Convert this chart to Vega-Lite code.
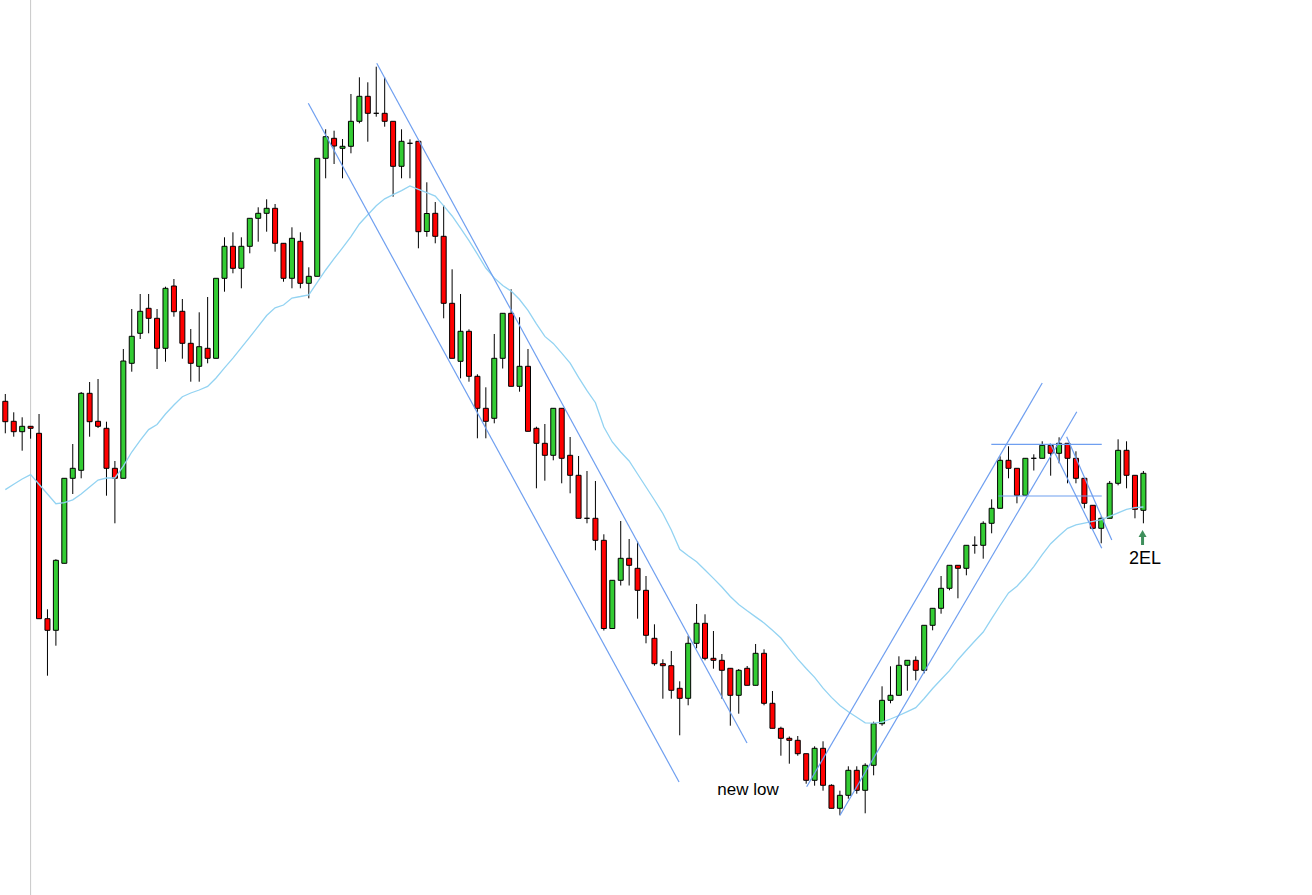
{
  "$schema": "https://vega.github.io/schema/vega-lite/v6.json",
  "width": 1312,
  "height": 895,
  "autosize": "none",
  "padding": 0,
  "background": "white",
  "config": {"view": {"stroke": null}, "scale": {"continuousPadding": 0}},
  "datasets": {
    "candles": [
      {"i":0,"o":498.7,"h":506,"l":466.7,"c":478.3,"ma":410.4},
      {"i":1,"o":478.7,"h":487.7,"l":463.3,"c":468.3,"ma":415.7},
      {"i":2,"o":468.3,"h":482.7,"l":449.3,"c":473.7,"ma":421},
      {"i":3,"o":473.7,"h":474,"l":461.3,"c":471.7,"ma":425.4},
      {"i":4,"o":466.7,"h":486,"l":281.3,"c":281.3,"ma":415.7},
      {"i":5,"o":281.3,"h":290.7,"l":224.3,"c":269.7,"ma":406},
      {"i":6,"o":269.7,"h":340.7,"l":254.3,"c":339.7,"ma":396.3},
      {"i":7,"o":336.7,"h":421.7,"l":336.7,"c":421.7,"ma":397.4},
      {"i":8,"o":421.7,"h":456,"l":406,"c":431.7,"ma":400.2},
      {"i":9,"o":429.7,"h":508,"l":421.7,"c":506.7,"ma":406},
      {"i":10,"o":506.7,"h":518,"l":463.3,"c":478.3,"ma":413},
      {"i":11,"o":478.7,"h":521,"l":472,"c":473.7,"ma":419.9},
      {"i":12,"o":471.7,"h":478.3,"l":404.3,"c":431.7,"ma":422},
      {"i":13,"o":431.7,"h":439,"l":376.7,"c":421.7,"ma":422},
      {"i":14,"o":421.7,"h":551,"l":421.7,"c":539,"ma":433.8},
      {"i":15,"o":536.7,"h":591,"l":528.3,"c":563.7,"ma":448},
      {"i":16,"o":566.7,"h":606,"l":561,"c":588.7,"ma":459.6},
      {"i":17,"o":591.7,"h":606,"l":566.7,"c":581.7,"ma":470.4},
      {"i":18,"o":581.7,"h":591,"l":531,"c":551.7,"ma":475.5},
      {"i":19,"o":551.7,"h":613.3,"l":538.3,"c":611.7,"ma":486},
      {"i":20,"o":614,"h":621,"l":583.3,"c":588.3,"ma":495},
      {"i":21,"o":588.7,"h":601,"l":541.3,"c":556.7,"ma":503.3},
      {"i":22,"o":556.7,"h":571,"l":518.3,"c":536.7,"ma":507},
      {"i":23,"o":533.7,"h":587.7,"l":518.3,"c":553.3,"ma":510},
      {"i":24,"o":551.7,"h":603,"l":536.7,"c":541.7,"ma":513.6},
      {"i":25,"o":541.7,"h":621.7,"l":541.7,"c":621.7,"ma":522},
      {"i":26,"o":621.7,"h":662.7,"l":608.3,"c":653.7,"ma":532.2},
      {"i":27,"o":653.7,"h":667.7,"l":626.7,"c":631.7,"ma":541.9},
      {"i":28,"o":631.7,"h":662.7,"l":611.7,"c":653.7,"ma":552.3},
      {"i":29,"o":653.7,"h":681.7,"l":646.7,"c":681.7,"ma":562.8},
      {"i":30,"o":681.7,"h":692.7,"l":658.3,"c":686.7,"ma":573.6},
      {"i":31,"o":686.7,"h":700.7,"l":668.3,"c":691.7,"ma":584.5},
      {"i":32,"o":691.7,"h":696,"l":648.3,"c":656.7,"ma":592.2},
      {"i":33,"o":656.7,"h":656.7,"l":618.3,"c":621.7,"ma":595},
      {"i":34,"o":621.7,"h":672.7,"l":611.7,"c":661.7,"ma":602},
      {"i":35,"o":658.7,"h":667.7,"l":611.7,"c":616.7,"ma":603.5},
      {"i":36,"o":616.7,"h":632.7,"l":601.7,"c":623.7,"ma":605.2},
      {"i":37,"o":623.7,"h":741.7,"l":623.7,"c":741.7,"ma":617.6},
      {"i":38,"o":741.7,"h":770.7,"l":721.7,"c":763.3,"ma":630},
      {"i":39,"o":761.7,"h":769.3,"l":736,"c":754,"ma":641.3},
      {"i":40,"o":751.7,"h":761,"l":721.7,"c":753.7,"ma":652.2},
      {"i":41,"o":753.7,"h":806,"l":746.7,"c":778.7,"ma":663.4},
      {"i":42,"o":778.7,"h":822.7,"l":776.7,"c":803.7,"ma":676},
      {"i":43,"o":803.7,"h":817.7,"l":758.3,"c":786.7,"ma":685.3},
      {"i":44,"o":786.7,"h":833.3,"l":783.3,"c":786.7,"ma":694.2},
      {"i":45,"o":786.7,"h":822.7,"l":773.3,"c":778.7,"ma":701.2},
      {"i":46,"o":778.7,"h":778.7,"l":703.3,"c":733.7,"ma":705.4},
      {"i":47,"o":733.7,"h":770.7,"l":721.7,"c":758.7,"ma":709.4},
      {"i":48,"o":756.7,"h":760.7,"l":721.7,"c":756.7,"ma":714},
      {"i":49,"o":758.7,"h":758.7,"l":651.7,"c":668.3,"ma":710.6},
      {"i":50,"o":668.5,"h":717.7,"l":663.3,"c":686.5,"ma":707.3},
      {"i":51,"o":686.7,"h":698,"l":656.7,"c":663.7,"ma":703.9},
      {"i":52,"o":663.7,"h":695,"l":581.7,"c":596.7,"ma":694.1},
      {"i":53,"o":596.7,"h":630.7,"l":541.7,"c":541.7,"ma":684},
      {"i":54,"o":538.7,"h":606,"l":521.7,"c":568.7,"ma":671.8},
      {"i":55,"o":568.7,"h":570.7,"l":518.3,"c":523.7,"ma":659.4},
      {"i":56,"o":523.7,"h":525.7,"l":461.7,"c":491.7,"ma":645.8},
      {"i":57,"o":491.7,"h":512.7,"l":461.7,"c":478.7,"ma":632},
      {"i":58,"o":481.7,"h":566,"l":476.7,"c":541.7,"ma":622.1},
      {"i":59,"o":541.7,"h":586.7,"l":531.5,"c":586.7,"ma":614.4},
      {"i":60,"o":586.7,"h":610.7,"l":513.7,"c":513.7,"ma":608.9},
      {"i":61,"o":513.7,"h":582.7,"l":508.3,"c":533.7,"ma":600.5},
      {"i":62,"o":533.7,"h":551,"l":468.7,"c":468.7,"ma":589.6},
      {"i":63,"o":471.7,"h":473.3,"l":411.7,"c":456.7,"ma":576.2},
      {"i":64,"o":456.7,"h":476,"l":419.3,"c":444.7,"ma":563.6},
      {"i":65,"o":444.7,"h":491.7,"l":439.7,"c":491.7,"ma":556.6},
      {"i":66,"o":491.7,"h":491.7,"l":416.7,"c":441.7,"ma":546.8},
      {"i":67,"o":444.7,"h":463,"l":406.7,"c":424.7,"ma":536.9},
      {"i":68,"o":424.7,"h":444,"l":381.7,"c":381.7,"ma":522.6},
      {"i":69,"o":381.7,"h":429,"l":376.7,"c":381.7,"ma":509.3},
      {"i":70,"o":381.7,"h":419,"l":349.7,"c":359.7,"ma":497.3},
      {"i":71,"o":359.7,"h":365.7,"l":269.5,"c":271.5,"ma":473},
      {"i":72,"o":271.5,"h":319.7,"l":271.5,"c":319.7,"ma":458},
      {"i":73,"o":319.7,"h":379,"l":314.5,"c":341.7,"ma":448},
      {"i":74,"o":341.7,"h":361,"l":314.5,"c":334.7,"ma":439},
      {"i":75,"o":331.7,"h":358.7,"l":281.3,"c":309.7,"ma":426},
      {"i":76,"o":309.7,"h":324,"l":256.7,"c":264.7,"ma":413},
      {"i":77,"o":261.7,"h":275.7,"l":234.3,"c":236.3,"ma":400},
      {"i":78,"o":236.3,"h":240.7,"l":201.3,"c":234.3,"ma":386.5},
      {"i":79,"o":234.3,"h":249,"l":201.3,"c":209.7,"ma":370},
      {"i":80,"o":211.7,"h":218.7,"l":164.7,"c":201.7,"ma":350.7},
      {"i":81,"o":201.7,"h":264.3,"l":194.7,"c":256.7,"ma":344.3},
      {"i":82,"o":256.7,"h":296,"l":251.7,"c":276.7,"ma":338.3},
      {"i":83,"o":276.7,"h":285.7,"l":239.7,"c":241.7,"ma":330},
      {"i":84,"o":241.7,"h":269,"l":231.3,"c":239.7,"ma":321.6},
      {"i":85,"o":239.7,"h":246,"l":201.3,"c":229.7,"ma":313},
      {"i":86,"o":231.7,"h":231.7,"l":174.3,"c":204.7,"ma":303.5},
      {"i":87,"o":204.7,"h":231,"l":186.3,"c":229.7,"ma":295.6},
      {"i":88,"o":231.7,"h":234,"l":214.7,"c":214.7,"ma":289.2},
      {"i":89,"o":214.7,"h":256,"l":214.7,"c":246.7,"ma":283.1},
      {"i":90,"o":246.7,"h":250.7,"l":194.7,"c":196.7,"ma":277.1},
      {"i":91,"o":196.7,"h":209,"l":171.7,"c":171.7,"ma":269.7},
      {"i":92,"o":171.7,"h":173.3,"l":144.3,"c":161.7,"ma":262},
      {"i":93,"o":161.7,"h":163.5,"l":136.3,"c":159.7,"ma":251.4},
      {"i":94,"o":159.7,"h":164,"l":144.3,"c":146.3,"ma":240.9},
      {"i":95,"o":146.3,"h":146.3,"l":116.3,"c":119.7,"ma":231.5},
      {"i":96,"o":119.7,"h":153.7,"l":114.3,"c":151.7,"ma":222.6},
      {"i":97,"o":151.7,"h":158.7,"l":109.3,"c":114.7,"ma":211.8},
      {"i":98,"o":114.7,"h":115.7,"l":91.7,"c":91.7,"ma":202.6},
      {"i":99,"o":91.7,"h":109.3,"l":84.7,"c":104.7,"ma":194.6},
      {"i":100,"o":104.7,"h":133.7,"l":101.3,"c":129.7,"ma":188.3},
      {"i":101,"o":129.7,"h":133.7,"l":106.3,"c":109.7,"ma":182.7},
      {"i":102,"o":109.7,"h":136.7,"l":86.7,"c":134.7,"ma":177.1},
      {"i":103,"o":134.7,"h":178.3,"l":124.7,"c":176.3,"ma":176.8},
      {"i":104,"o":176.3,"h":213.7,"l":174.3,"c":199.7,"ma":177.9},
      {"i":105,"o":199.7,"h":233.7,"l":196.7,"c":204.7,"ma":181},
      {"i":106,"o":204.7,"h":243.7,"l":204.7,"c":234.7,"ma":184.5},
      {"i":107,"o":234.7,"h":239.7,"l":209.3,"c":239.7,"ma":188.4},
      {"i":108,"o":239.7,"h":243.7,"l":219.7,"c":229.7,"ma":192.4},
      {"i":109,"o":229.7,"h":274.7,"l":226.7,"c":274.7,"ma":201.5},
      {"i":110,"o":274.7,"h":291.7,"l":269.7,"c":291.7,"ma":211.5},
      {"i":111,"o":291.7,"h":324,"l":286.3,"c":311.7,"ma":220.5},
      {"i":112,"o":311.7,"h":334.7,"l":309.7,"c":334.7,"ma":229.4},
      {"i":113,"o":334.7,"h":334.7,"l":301.7,"c":331.7,"ma":240.3},
      {"i":114,"o":331.7,"h":354.7,"l":324.7,"c":354.7,"ma":249.8},
      {"i":115,"o":354.7,"h":363.7,"l":346.3,"c":354.7,"ma":259},
      {"i":116,"o":354.7,"h":378.7,"l":341.3,"c":376.7,"ma":268},
      {"i":117,"o":376.7,"h":400.7,"l":366.7,"c":391.7,"ma":281.4},
      {"i":118,"o":391.7,"h":443.7,"l":391.7,"c":439.7,"ma":294.5},
      {"i":119,"o":439.7,"h":453.7,"l":421.7,"c":431.7,"ma":307},
      {"i":120,"o":431.7,"h":431.7,"l":396.7,"c":404.7,"ma":313.7},
      {"i":121,"o":404.7,"h":441.7,"l":404.7,"c":441.7,"ma":323},
      {"i":122,"o":441.7,"h":445.7,"l":429.5,"c":441.7,"ma":333.3},
      {"i":123,"o":441.7,"h":458.7,"l":441.7,"c":454.7,"ma":345.4},
      {"i":124,"o":454.7,"h":454.7,"l":424.3,"c":446.7,"ma":356.3},
      {"i":125,"o":446.7,"h":462.7,"l":436.7,"c":456.7,"ma":364.2},
      {"i":126,"o":456.7,"h":456.7,"l":416.7,"c":441.7,"ma":371.7},
      {"i":127,"o":441.7,"h":448.7,"l":416.7,"c":421.7,"ma":375.2},
      {"i":128,"o":421.7,"h":421.7,"l":391.7,"c":396.7,"ma":376.9},
      {"i":129,"o":394.7,"h":394.7,"l":370.7,"c":371.7,"ma":378.7},
      {"i":130,"o":371.7,"h":383.7,"l":356.7,"c":381.7,"ma":380.3},
      {"i":131,"o":381.7,"h":419,"l":381.7,"c":416.7,"ma":383.7},
      {"i":132,"o":416.7,"h":460.7,"l":414.7,"c":449.7,"ma":387.2},
      {"i":133,"o":449.7,"h":458.7,"l":411.7,"c":424.7,"ma":390.6},
      {"i":134,"o":424.7,"h":424.7,"l":381.7,"c":390.7,"ma":392.4},
      {"i":135,"o":389.7,"h":429,"l":376.7,"c":426.7,"ma":393}
    ],
    "lines": [
      {"id":"L1","i":35.94,"p":796.7},{"id":"L1","i":79.92,"p":118},
      {"id":"L2","i":44.06,"p":836.7},{"id":"L2","i":87.98,"p":157},
      {"id":"L3","i":95.06,"p":113.3},{"id":"L3","i":123.0,"p":517},
      {"id":"L4","i":99.01,"p":84.7},{"id":"L4","i":127.1,"p":488.3},
      {"id":"H1","i":116.96,"p":455.7},{"id":"H1","i":130.06,"p":455.7},
      {"id":"H2","i":117.8,"p":404},{"id":"H2","i":130.06,"p":404},
      {"id":"A","i":123.93,"p":456.7},{"id":"A","i":130.06,"p":351.7},
      {"id":"B","i":125.9,"p":463.3},{"id":"B","i":131.25,"p":360}
    ],
    "notes": [
      {"label":"new low","i":88.1,"p":105,"size":17},
      {"label":"2EL","i":135.2,"p":336.5,"size":18}
    ],
    "arrow": [
      {"i":134.9,"p":355,"p2":363.5,"tip":366.5}
    ],
    "guide": [
      {"i":3}
    ]
  },
  "layer": [
    {
      "data": {"name": "guide"},
      "mark": {"type": "rule", "color": "#c8c8c8", "strokeWidth": 1},
      "encoding": {
        "x": {"field": "i", "type": "quantitative", "scale": {"domain": [-0.63, 155.0], "nice": false, "zero": false, "padding": 0}, "axis": null}
      }
    },
    {
      "data": {"name": "candles"},
      "mark": {"type": "rule", "color": "black", "strokeWidth": 1},
      "encoding": {
        "x": {"field": "i", "type": "quantitative", "scale": {"domain": [-0.63, 155.0], "nice": false, "zero": false, "padding": 0}, "axis": null},
        "y": {"field": "l", "type": "quantitative", "scale": {"domain": [5, 900], "nice": false, "zero": false, "padding": 0}, "axis": null},
        "y2": {"field": "h"}
      }
    },
    {
      "data": {"name": "candles"},
      "mark": {"type": "bar", "width": 5, "stroke": "black", "strokeWidth": 1},
      "encoding": {
        "x": {"field": "i", "type": "quantitative", "scale": {"domain": [-0.63, 155.0], "nice": false, "zero": false, "padding": 0}, "axis": null},
        "y": {"field": "o", "type": "quantitative", "scale": {"domain": [5, 900], "nice": false, "zero": false, "padding": 0}, "axis": null},
        "y2": {"field": "c"},
        "fill": {
          "condition": {"test": "datum.c >= datum.o", "value": "#33cc33"},
          "value": "#ff0000"
        }
      }
    },
    {
      "data": {"name": "candles"},
      "mark": {"type": "line", "color": "#93d3f2", "strokeWidth": 1.3},
      "encoding": {
        "x": {"field": "i", "type": "quantitative", "scale": {"domain": [-0.63, 155.0], "nice": false, "zero": false, "padding": 0}, "axis": null},
        "y": {"field": "ma", "type": "quantitative", "scale": {"domain": [5, 900], "nice": false, "zero": false, "padding": 0}, "axis": null}
      }
    },
    {
      "data": {"name": "lines"},
      "mark": {"type": "line", "color": "#6f9ff0", "strokeWidth": 1.2},
      "encoding": {
        "x": {"field": "i", "type": "quantitative", "scale": {"domain": [-0.63, 155.0], "nice": false, "zero": false, "padding": 0}, "axis": null},
        "y": {"field": "p", "type": "quantitative", "scale": {"domain": [5, 900], "nice": false, "zero": false, "padding": 0}, "axis": null},
        "detail": {"field": "id", "type": "nominal"}
      }
    },
    {
      "data": {"name": "notes"},
      "mark": {"type": "text", "font": "Liberation Sans", "color": "black", "align": "center", "baseline": "alphabetic"},
      "encoding": {
        "x": {"field": "i", "type": "quantitative", "scale": {"domain": [-0.63, 155.0], "nice": false, "zero": false, "padding": 0}, "axis": null},
        "y": {"field": "p", "type": "quantitative", "scale": {"domain": [5, 900], "nice": false, "zero": false, "padding": 0}, "axis": null},
        "text": {"field": "label"},
        "size": {"field": "size", "type": "quantitative", "scale": null}
      }
    },
    {
      "data": {"name": "arrow"},
      "mark": {"type": "rule", "color": "#3f8f5c", "strokeWidth": 3},
      "encoding": {
        "x": {"field": "i", "type": "quantitative", "scale": {"domain": [-0.63, 155.0], "nice": false, "zero": false, "padding": 0}, "axis": null},
        "y": {"field": "p", "type": "quantitative", "scale": {"domain": [5, 900], "nice": false, "zero": false, "padding": 0}, "axis": null},
        "y2": {"field": "p2"}
      }
    },
    {
      "data": {"name": "arrow"},
      "mark": {"type": "point", "shape": "triangle-up", "filled": true, "color": "#3f8f5c", "size": 64, "opacity": 1},
      "encoding": {
        "x": {"field": "i", "type": "quantitative", "scale": {"domain": [-0.63, 155.0], "nice": false, "zero": false, "padding": 0}, "axis": null},
        "y": {"field": "tip", "type": "quantitative", "scale": {"domain": [5, 900], "nice": false, "zero": false, "padding": 0}, "axis": null}
      }
    }
  ]
}
